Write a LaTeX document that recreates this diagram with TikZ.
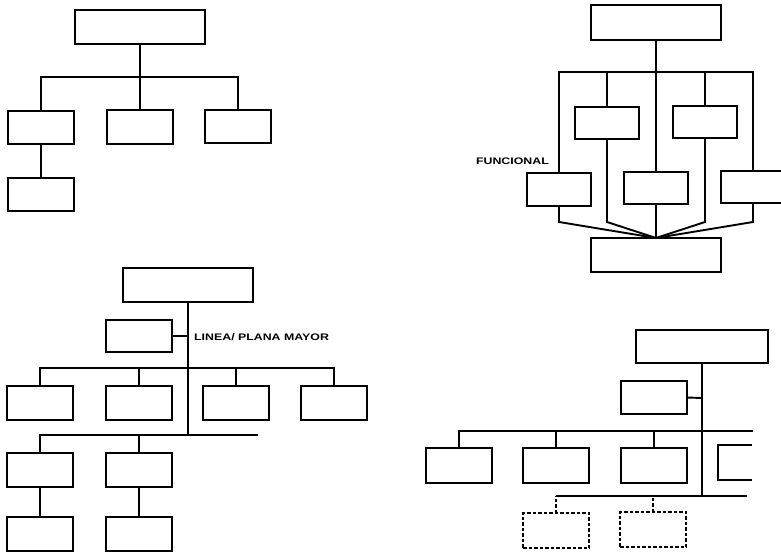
\documentclass[tikz,border=0pt]{standalone}
\usepackage{fontspec}
\usepackage{graphicx}
\newfontfamily\lblfont{Liberation Sans}
\tikzset{
  box/.style={draw, rectangle, line width=1.9pt, inner sep=0pt, outer sep=0pt,
              minimum width=66pt, minimum height=33pt},
  wide/.style={box, minimum width=130pt, minimum height=34pt},
  dbox/.style={box, line width=1.7pt, dash pattern=on 3.5pt off 2pt},
  conn/.style={line width=1.9pt},
  dconn/.style={conn, line width=1.7pt, dash pattern=on 3.5pt off 2pt},
  lbl/.style={font=\lblfont\bfseries\fontsize{9.5}{9.5}\selectfont, inner sep=0pt}
}
\begin{document}
\begin{tikzpicture}[x=1pt,y=-1pt]
\clip (0,0) rectangle (781,553);
\fill[white] (0,0) rectangle (781,553);

% ---------- Diagram 1 (top left) ----------
\node[wide] (t1) at (140,27) {};
\node[box] (a1) at (41,127.5) {};
\node[box, minimum height=34pt] (a2) at (140,127) {};
\node[box] (a3) at (238,126.5) {};
\node[box] (a4) at (41,194.5) {};
\coordinate (j1) at (140,77);
\draw[conn] (t1.south) -- (j1) -- (a2.north);
\draw[conn] (a1.north) |- (j1) -| (a3.north);
\draw[conn] (a1.south) -- (a4.north);

% ---------- Diagram 2 (top right, funcional) ----------
\node[wide, minimum height=35pt] (t2) at (656,22.5) {};
\node[box, minimum width=64pt, minimum height=32pt] (ul) at (607,123) {};
\node[box, minimum width=64pt, minimum height=32pt] (ur) at (705,122) {};
\node[box, minimum width=64pt] (fl) at (559,189.5) {};
\node[box, minimum width=64pt, minimum height=32pt] (fc) at (656,188) {};
\node[box, minimum width=64pt, minimum height=32pt] (fr) at (753,187) {};
\node[wide] (bt) at (656,255) {};
\coordinate (j2) at (656,72);
\coordinate (k2) at (656,222);
\draw[conn] (t2.south) -- (j2) -- (fc.north);
\draw[conn] (fl.north) |- (j2) -| (fr.north);
\draw[conn] (ul.north) -- (ul.north |- j2);
\draw[conn] (ur.north) -- (ur.north |- j2);
\draw[conn] (fl.south) -- (fl.south |- k2) -- (bt.north);
\draw[conn] (ul.south) -- (ul.south |- k2) -- (bt.north);
\draw[conn] (ur.south) -- (ur.south |- k2) -- (bt.north);
\draw[conn] (fr.south) -- (fr.south |- k2) -- (bt.north);
\draw[conn] (fc.south) -- (bt.north);
\node[lbl, anchor=east] (fun) at (549,161) {\scalebox{1.3}[1]{FUNCIONAL}};

% ---------- Diagram 3 (bottom left, linea/plana mayor) ----------
\node[wide] (t3) at (188,285) {};
\node[box, minimum height=32pt] (s3) at (139,336) {};
\node[lbl, anchor=west] (lpm) at (194,337) {\scalebox{1.3}[1]{LINEA/ PLANA MAYOR}};
\coordinate (j3a) at (188,336);
\coordinate (j3b) at (188,368);
\coordinate (j3c) at (188,435);
\coordinate (e3) at (258,435);
\draw[conn] (t3.south) -- (j3c);
\draw[conn] (s3.east) -- (j3a);
\node[box, minimum height=34pt] (b1) at (40,403) {};
\node[box, minimum height=34pt] (b2) at (139,403) {};
\node[box, minimum height=34pt] (b3) at (236,403) {};
\node[box, minimum height=34pt] (b4) at (334,403) {};
\draw[conn] (b1.north) |- (j3b) -| (b4.north);
\draw[conn] (b2.north) -- (b2.north |- j3b);
\draw[conn] (b3.north) -- (b3.north |- j3b);
\node[box, minimum height=34pt] (c1) at (40,470) {};
\node[box, minimum height=34pt] (c2) at (139,470) {};
\draw[conn] (c1.north) |- (e3);
\draw[conn] (c2.north) -- (c2.north |- e3);
\node[box, minimum height=34pt] (d1) at (40,534) {};
\node[box, minimum height=34pt] (d2) at (139,534) {};
\draw[conn] (c1.south) -- (d1.north);
\draw[conn] (c2.south) -- (d2.north);

% ---------- Diagram 4 (bottom right) ----------
\node[wide, minimum width=132pt, minimum height=33pt] (t4) at (702,346.5) {};
\node[box, minimum width=66pt] (s4) at (654,397.5) {};
\coordinate (j4a) at (702,398);
\coordinate (j4c) at (702,496);
\coordinate (r4a) at (753,431);
\coordinate (r4b) at (747,496);
\draw[conn] (t4.south) -- (j4c);
\draw[conn] (s4.east) -- (j4a);
\node[box, minimum height=35pt] (e1) at (459,465.5) {};
\node[box, minimum height=35pt] (e2) at (556,465.5) {};
\node[box, minimum height=35pt] (e3b) at (654,465.5) {};
\node[box, draw=none, minimum width=34pt, minimum height=35pt] (e4) at (735,462.5) {};
\draw[conn] (e4.north east) -- (e4.north west) -- (e4.south west) -- (e4.south east);
\draw[conn] (e1.north) |- (r4a);
\draw[conn] (e2.north) -- (e2.north |- r4a);
\draw[conn] (e3b.north) -- (e3b.north |- r4a);
\node[dbox, minimum height=35pt] (f1) at (556,530.5) {};
\node[dbox, minimum height=35pt] (f2) at (653,529.5) {};
\draw[conn] (f1.north |- r4b) -- (r4b);
\draw[dconn] (f1.north) -- (f1.north |- r4b);
\draw[dconn] (f2.north) -- (f2.north |- r4b);
\end{tikzpicture}
\end{document}
